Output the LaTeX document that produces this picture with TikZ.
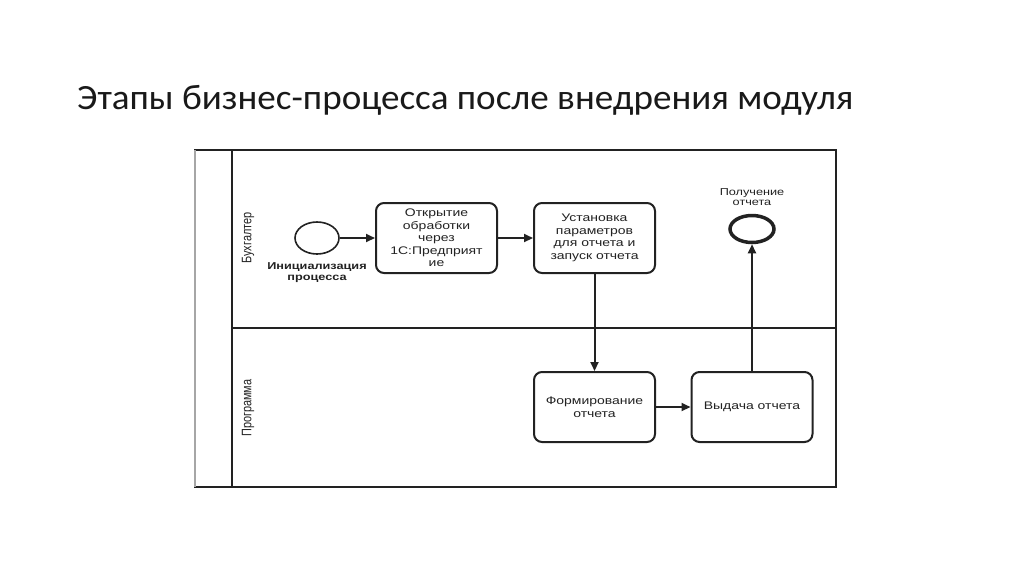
\documentclass[tikz,border=0pt]{standalone}
\usepackage{fontspec}
\setmainfont{Carlito}
\newfontfamily\tfont[FakeStretch=1.045]{Carlito}
\newfontfamily\dfont[FakeStretch=1.27]{Liberation Sans}
\newfontfamily\lfont[FakeStretch=0.79]{Liberation Sans}
\usetikzlibrary{shapes.geometric,arrows.meta}
\definecolor{ink}{HTML}{222222}
\tikzset{
  task/.style={draw=ink, line width=2pt, rounded corners=8pt, minimum width=121pt, minimum height=70pt, inner sep=0pt, align=center, text=ink, font=\dfont\fontsize{11}{12.6}\selectfont},
  arr/.style={draw=ink, line width=2pt, -{Triangle[length=9pt,width=8pt]}},
  pool/.style={draw=ink, line width=1.8pt},
  lanelbl/.style={rotate=90, text=ink, font=\lfont\fontsize{13.8}{14}\selectfont, inner sep=0pt},
  evlbl/.style={align=center, text=ink, inner sep=0pt}
}
\begin{document}
\begin{tikzpicture}[x=1pt,y=-1pt]
\useasboundingbox[fill=white] (0,0) rectangle (1024,574);
% title
\node[anchor=base west, inner sep=0pt, text=black!90, font=\tfont\fontsize{35.5}{40}\selectfont] (title) at (77,109) {Этапы бизнес-процесса после внедрения модуля};
% pool
\draw[pool] (195,150) rectangle (836,487);
\draw[line width=1.8pt, draw=gray!70] (195,150) -- (195,487);
\draw[pool] (232,150) -- (232,487);
\draw[pool] (232,328) -- (836,328);
\node[lanelbl] (l1) at (248,238) {Бухгалтер};
\node[lanelbl] (l2) at (248,408) {Программа};
% events
\node[draw=ink, line width=1.6pt, ellipse, minimum width=44pt, minimum height=32pt, inner sep=0pt] (s) at (317,238) {};
\node[evlbl, font=\dfont\bfseries\fontsize{10}{11}\selectfont] (sl) at (317,273) {Инициализация\\процесса};
\node[draw=ink, line width=3.5pt, ellipse, minimum width=44pt, minimum height=27pt, inner sep=0pt] (e) at (752,229) {};
\node[evlbl, font=\dfont\fontsize{10}{10.5}\selectfont] (el) at (752,197) {Получение\\отчета};
% tasks
\node[task] (b1) at (436.5,238) {Открытие\\обработки\\через\\1С:Предприят\\ие};
\node[task] (b2) at (594.5,238) {Установка\\параметров\\для отчета и\\запуск отчета};
\node[task] (b3) at (594.5,407) {Формирование\\отчета};
\node[task] (b4) at (752,407) {Выдача отчета};
% flows
\draw[arr] (s) -- (s -| b1.west);
\draw[arr] (b1) -- (b2);
\draw[arr] (b2) -- (b3);
\draw[arr] (b3) -- (b4);
\draw[arr] (b4) -- (e);
\end{tikzpicture}
\end{document}
